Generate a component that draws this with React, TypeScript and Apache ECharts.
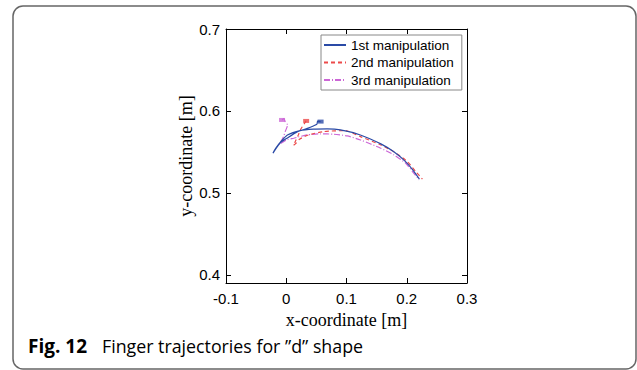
import React, { useEffect, useRef } from "react";
import * as echarts from "echarts";

// Finger trajectories (x [m], y [m])
const trial1: number[][] = [
  [0.057, 0.587], [0.052, 0.5875], [0.051, 0.584], [0.045, 0.5817], [0.035, 0.5787],
  [0.018, 0.5744], [0.002, 0.5671], [-0.010, 0.561], [-0.022, 0.5485], [-0.017, 0.5549],
  [-0.008, 0.5634], [0.002, 0.5707], [0.023, 0.576], [0.045, 0.5777], [0.068, 0.578],
  [0.090, 0.5768], [0.123, 0.5707], [0.157, 0.5598], [0.178, 0.5504], [0.198, 0.5382],
  [0.210, 0.528], [0.221, 0.5167],
];
const trial2: number[][] = [
  [0.033, 0.5878], [0.030, 0.5845], [0.0233, 0.5768], [0.020, 0.5707], [0.015, 0.5626],
  [0.012, 0.558], [0.016, 0.5605], [0.022, 0.5655], [0.037, 0.5707], [0.062, 0.5748],
  [0.098, 0.576], [0.123, 0.5687], [0.157, 0.5585], [0.178, 0.5504], [0.201, 0.5382],
  [0.215, 0.526], [0.226, 0.5167],
];
const trial3: number[][] = [
  [-0.007, 0.589], [-0.004, 0.5905], [-0.0017, 0.587], [0.0022, 0.5829], [-0.0017, 0.5748],
  [-0.0045, 0.5687], [-0.0088, 0.5626], [-0.012, 0.559], [0.0, 0.5646], [0.0122, 0.5667],
  [0.0345, 0.5707], [0.0567, 0.572], [0.0788, 0.5716], [0.1012, 0.5695], [0.1233, 0.5646],
  [0.1567, 0.5545], [0.1788, 0.5463], [0.1983, 0.5362], [0.2095, 0.526], [0.2205, 0.5159],
];
const seriesNames = ["1st manipulation", "2nd manipulation", "3rd manipulation"];
const yTicks = [0.4, 0.5, 0.6, 0.7];
const xAxisTitle = "x-coordinate [m]";
const yAxisTitle = "y-coordinate [m]";
const captionBold = "Fig. 12";
const captionText = "Finger trajectories for \u201Dd\u201D shape";

const colors = ["#2a4aa6", "#ec4a4a", "#cc66d6"];
const lineTypes: any[] = ["solid", [4, 3], [6, 2, 1, 2]];

export default function App() {
  const ref = useRef<HTMLDivElement>(null);
  useEffect(() => {
    if (!ref.current) return;
    const chart = echarts.init(ref.current, undefined, { renderer: "svg" });
    const tickFont = { fontFamily: "Liberation Sans", fontSize: 15, color: "#000" };
    const fmt = (v: number) => (Math.abs(v) < 1e-9 ? "0" : Number(v).toFixed(1));
    const axisLine = { show: true, onZero: false, lineStyle: { color: "#000", width: 1 } };
    const tick = { show: true, inside: true, length: 5, lineStyle: { color: "#000", width: 1 } };
    const data = [trial1, trial2, trial3];
    const option: any = {
      animation: false,
      backgroundColor: "#fff",
      grid: { left: 226, right: 170, top: 29, bottom: 87 },
      xAxis: [
        {
          type: "value", min: -0.1, max: 0.3, interval: 0.1, position: "bottom",
          axisLine, axisTick: tick, splitLine: { show: false },
          axisLabel: { ...tickFont, margin: 8, formatter: fmt },
          name: xAxisTitle, nameLocation: "middle", nameGap: 20,
          nameTextStyle: { fontFamily: "Liberation Serif", fontSize: 18, color: "#000" },
        },
        {
          type: "value", min: -0.1, max: 0.3, interval: 0.1, position: "top",
          axisLine, axisTick: tick, splitLine: { show: false }, axisLabel: { show: false },
        },
      ],
      yAxis: [
        {
          type: "value", min: 0.39, max: 0.7, position: "left",
          axisLine, splitLine: { show: false },
          axisTick: { ...tick, customValues: yTicks },
          axisLabel: { ...tickFont, margin: 6, formatter: fmt, customValues: yTicks },
          name: yAxisTitle, nameLocation: "middle", nameGap: 30,
          nameTextStyle: { fontFamily: "Liberation Serif", fontSize: 18, color: "#000" },
        },
        {
          type: "value", min: 0.39, max: 0.7, position: "right",
          axisLine, splitLine: { show: false },
          axisTick: { ...tick, customValues: yTicks },
          axisLabel: { show: false, customValues: yTicks },
        },
      ],
      legend: {
        data: seriesNames,
        orient: "vertical",
        left: 321, top: 35,
        itemWidth: 22, itemHeight: 14, itemGap: 3.5,
        padding: [3, 8, 3, 2],
        borderColor: "#888", borderWidth: 1, borderRadius: 0,
        backgroundColor: "#fff",
        itemStyle: { opacity: 0 },
        textStyle: { fontFamily: "Liberation Sans", fontSize: 13.5, color: "#000" },
      },
      series: [
        ...data.map((d, i) => ({
          name: seriesNames[i],
          type: "line",
          data: d,
          symbol: "none",
          smooth: 0.2,
          lineStyle: { color: colors[i], width: 1.2, type: lineTypes[i] },
          itemStyle: { color: colors[i] },
          z: 3 - i,
        })),
        {
          name: "start",
          type: "scatter",
          symbol: "rect",
          symbolSize: [6, 4],
          data: data.map((d, i) => ({ value: d[0], itemStyle: { color: colors[i] } })),
          z: 5,
        },
      ],
      graphic: [
        {
          type: "rect",
          shape: { x: 13, y: 6, width: 623, height: 363, r: 10 },
          style: { fill: "none", stroke: "#666", lineWidth: 1.5 },
          silent: true,
        },
        {
          type: "text", x: 28, y: 346,
          style: { text: captionBold, font: 'bold 19px "Open Sans"', fill: "#000", verticalAlign: "middle" },
        },
        {
          type: "text", x: 102, y: 346,
          style: { text: captionText, font: '17.8px "Open Sans"', fill: "#000", verticalAlign: "middle" },
        },
      ],
    };
    chart.setOption(option);
    return () => chart.dispose();
  }, []);
  return (
    <div
      ref={ref}
      style={{ position: "fixed", left: 0, top: 0, width: 637, height: 370, background: "#fff" }}
    />
  );
}
